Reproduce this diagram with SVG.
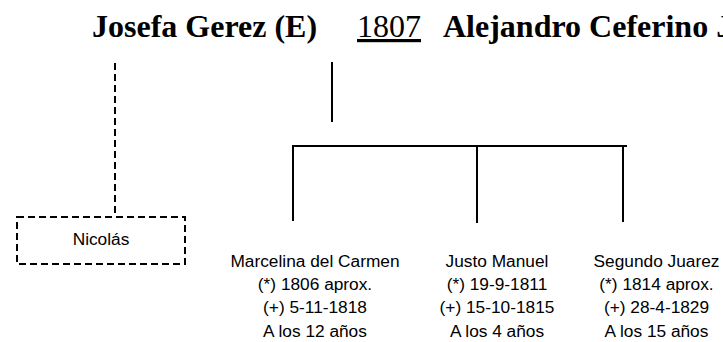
<svg xmlns="http://www.w3.org/2000/svg" width="723" height="342" viewBox="0 0 723 342">
<style>
.t{font-family:"Liberation Serif","Times New Roman",serif;font-size:32px;fill:#000}
.b{font-weight:bold}
.s{font-family:"Liberation Sans",Arial,sans-serif;font-size:17.3px;fill:#000;text-anchor:middle}
.ln{stroke:#000;stroke-width:2;fill:none}
.dash{stroke:#000;stroke-width:2;fill:none;stroke-dasharray:7,4}
</style>
<rect width="723" height="342" fill="#fff"/>
<g id="title">
<text class="t b" x="92" y="37">Josefa Gerez (E)</text>
<text class="t" x="357" y="37" text-decoration="underline">1807</text>
<text class="t b" x="443" y="37">Alejandro Ceferino J</text>
</g>
<g id="connectors">
<line class="ln" x1="332" y1="62" x2="332" y2="122"/>
<line class="ln" x1="292" y1="146" x2="627" y2="146"/>
<line class="ln" x1="293" y1="147" x2="293" y2="221"/>
<line class="ln" x1="477" y1="147" x2="477" y2="223"/>
<line class="ln" x1="623" y1="146" x2="623" y2="222"/>
<line class="dash" x1="115" y1="63" x2="115" y2="217"/>
</g>
<g id="nicolas">
<rect class="dash" x="17" y="217" width="168" height="47"/>
<text class="s" x="101" y="245">Nicolás</text>
</g>
<g id="marcelina">
<text class="s" x="315" y="267">Marcelina del Carmen</text>
<text class="s" x="315" y="290.2">(*) 1806 aprox.</text>
<text class="s" x="315" y="313.4">(+) 5-11-1818</text>
<text class="s" x="315" y="336.6">A los 12 años</text>
</g>
<g id="justo">
<text class="s" x="497" y="267">Justo Manuel</text>
<text class="s" x="497" y="290.2">(*) 19-9-1811</text>
<text class="s" x="497" y="313.4">(+) 15-10-1815</text>
<text class="s" x="497" y="336.6">A los 4 años</text>
</g>
<g id="segundo">
<text class="s" x="656.5" y="267">Segundo Juarez</text>
<text class="s" x="656.5" y="290.2">(*) 1814 aprox.</text>
<text class="s" x="656.5" y="313.4">(+) 28-4-1829</text>
<text class="s" x="656.5" y="336.6">A los 15 años</text>
</g>
</svg>
